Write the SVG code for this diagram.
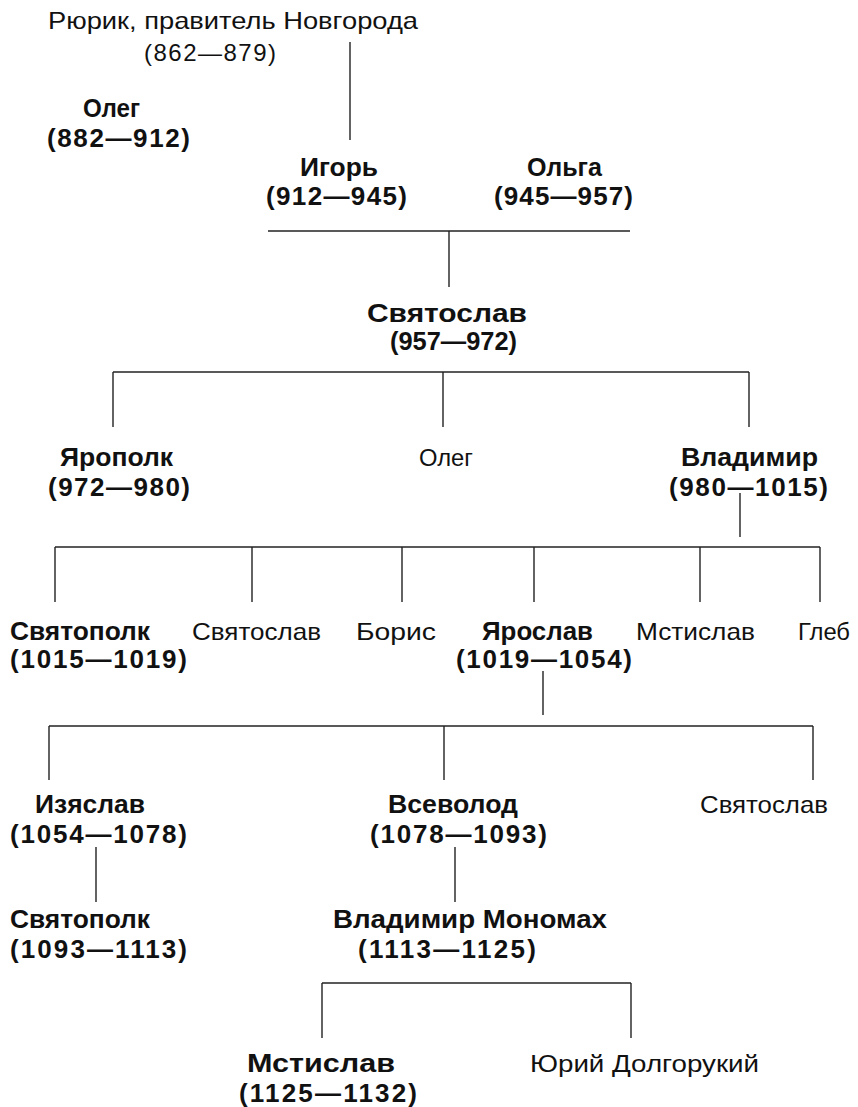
<svg xmlns="http://www.w3.org/2000/svg" width="858" height="1107" viewBox="0 0 858 1107">
<style>
text{font-family:"Liberation Sans",Arial,sans-serif;fill:#111;}
.b{font-weight:bold;font-size:25px;}
.d{font-weight:bold;font-size:26px;}
.r{font-size:24px;}
#connectors line{stroke:#222;stroke-width:1.4;}
</style>
<rect width="858" height="1107" fill="#fff"/>
<g id="connectors">
<line x1="350" y1="42" x2="350" y2="140"/>
<line x1="268" y1="231" x2="630" y2="231"/>
<line x1="449" y1="231" x2="449" y2="287"/>
<line x1="113" y1="372" x2="749" y2="372"/>
<line x1="113" y1="372" x2="113" y2="427"/>
<line x1="443" y1="372" x2="443" y2="427"/>
<line x1="749" y1="372" x2="749" y2="427"/>
<line x1="740" y1="493" x2="740" y2="537"/>
<line x1="55" y1="547" x2="820" y2="547"/>
<line x1="55" y1="547" x2="55" y2="602"/>
<line x1="252" y1="547" x2="252" y2="602"/>
<line x1="402" y1="547" x2="402" y2="602"/>
<line x1="534" y1="547" x2="534" y2="602"/>
<line x1="700" y1="547" x2="700" y2="602"/>
<line x1="820" y1="547" x2="820" y2="602"/>
<line x1="543" y1="671" x2="543" y2="715"/>
<line x1="49" y1="726" x2="813" y2="726"/>
<line x1="49" y1="726" x2="49" y2="780"/>
<line x1="444" y1="726" x2="444" y2="780"/>
<line x1="813" y1="726" x2="813" y2="780"/>
<line x1="96" y1="847" x2="96" y2="902"/>
<line x1="455" y1="847" x2="455" y2="902"/>
<line x1="322" y1="983" x2="631" y2="983"/>
<line x1="322" y1="983" x2="322" y2="1038"/>
<line x1="631" y1="983" x2="631" y2="1038"/>
</g>
<g id="rurik">
<text class="r" x="48" y="29" textLength="370" lengthAdjust="spacingAndGlyphs">Рюрик, правитель Новгорода</text>
<text class="r" x="144" y="61" textLength="132" lengthAdjust="spacing">(862—879)</text>
</g>
<g id="oleg1">
<text class="b" x="83" y="117" textLength="57" lengthAdjust="spacingAndGlyphs">Олег</text>
<text class="d" x="47" y="147" textLength="143" lengthAdjust="spacing">(882—912)</text>
</g>
<g id="igor">
<text class="b" x="300" y="176" textLength="78" lengthAdjust="spacingAndGlyphs">Игорь</text>
<text class="d" x="266" y="205" textLength="141" lengthAdjust="spacing">(912—945)</text>
</g>
<g id="olga">
<text class="b" x="527" y="176" textLength="75" lengthAdjust="spacingAndGlyphs">Ольга</text>
<text class="d" x="494" y="205" textLength="139" lengthAdjust="spacing">(945—957)</text>
</g>
<g id="sviatoslav1">
<text class="b" x="367" y="322" textLength="160" lengthAdjust="spacingAndGlyphs">Святослав</text>
<text class="d" x="390" y="350" textLength="127" lengthAdjust="spacingAndGlyphs">(957—972)</text>
</g>
<g id="yaropolk">
<text class="b" x="60" y="466" textLength="113" lengthAdjust="spacingAndGlyphs">Ярополк</text>
<text class="d" x="48" y="496" textLength="142" lengthAdjust="spacing">(972—980)</text>
</g>
<g id="oleg2">
<text class="r" x="419" y="466" textLength="54" lengthAdjust="spacingAndGlyphs">Олег</text>
</g>
<g id="vladimir">
<text class="b" x="681" y="466" textLength="137" lengthAdjust="spacingAndGlyphs">Владимир</text>
<text class="d" x="669" y="496" textLength="159" lengthAdjust="spacing">(980—1015)</text>
</g>
<g id="sviatopolk1">
<text class="b" x="10" y="640" textLength="140" lengthAdjust="spacingAndGlyphs">Святополк</text>
<text class="d" x="10" y="668" textLength="177" lengthAdjust="spacing">(1015—1019)</text>
</g>
<g id="sviatoslav2">
<text class="r" x="192" y="640" textLength="129" lengthAdjust="spacingAndGlyphs">Святослав</text>
</g>
<g id="boris">
<text class="r" x="356" y="640" textLength="80" lengthAdjust="spacingAndGlyphs">Борис</text>
</g>
<g id="yaroslav">
<text class="b" x="482" y="640" textLength="111" lengthAdjust="spacingAndGlyphs">Ярослав</text>
<text class="d" x="456" y="668" textLength="176" lengthAdjust="spacing">(1019—1054)</text>
</g>
<g id="mstislav1">
<text class="r" x="636" y="640" textLength="119" lengthAdjust="spacingAndGlyphs">Мстислав</text>
</g>
<g id="gleb">
<text class="r" x="798" y="640" textLength="52" lengthAdjust="spacingAndGlyphs">Глеб</text>
</g>
<g id="izyaslav">
<text class="b" x="35" y="813" textLength="110" lengthAdjust="spacingAndGlyphs">Изяслав</text>
<text class="d" x="10" y="843" textLength="177" lengthAdjust="spacing">(1054—1078)</text>
</g>
<g id="vsevolod">
<text class="b" x="388" y="813" textLength="130" lengthAdjust="spacingAndGlyphs">Всеволод</text>
<text class="d" x="370" y="843" textLength="177" lengthAdjust="spacing">(1078—1093)</text>
</g>
<g id="sviatoslav3">
<text class="r" x="700" y="813" textLength="128" lengthAdjust="spacingAndGlyphs">Святослав</text>
</g>
<g id="sviatopolk2">
<text class="b" x="10" y="928" textLength="140" lengthAdjust="spacingAndGlyphs">Святополк</text>
<text class="d" x="10" y="958" textLength="177" lengthAdjust="spacing">(1093—1113)</text>
</g>
<g id="monomakh">
<text class="b" x="333" y="928" textLength="274" lengthAdjust="spacingAndGlyphs">Владимир Мономах</text>
<text class="d" x="358" y="958" textLength="178" lengthAdjust="spacing">(1113—1125)</text>
</g>
<g id="mstislav2">
<text class="b" x="247" y="1072" textLength="148" lengthAdjust="spacingAndGlyphs">Мстислав</text>
<text class="d" x="239" y="1102" textLength="178" lengthAdjust="spacing">(1125—1132)</text>
</g>
<g id="yuri">
<text class="r" x="530" y="1072" textLength="229" lengthAdjust="spacingAndGlyphs">Юрий Долгорукий</text>
</g>
</svg>
